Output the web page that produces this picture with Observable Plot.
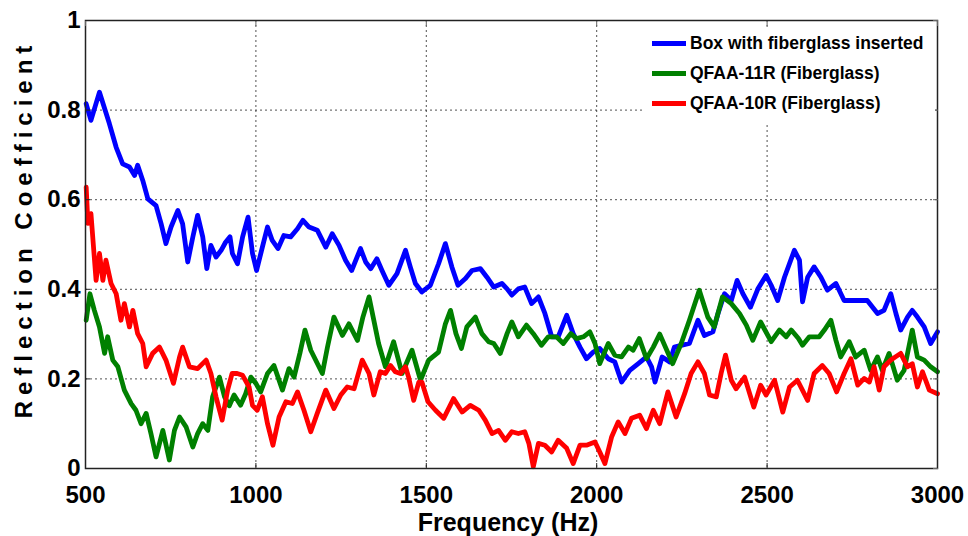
<!DOCTYPE html>
<html><head><meta charset="utf-8">
<script src="https://cdn.jsdelivr.net/npm/d3@7"></script>
<script src="https://cdn.jsdelivr.net/npm/@observablehq/plot@0.6"></script>
<style>
body{margin:0;background:#fff;}
#wrap{position:relative;width:968px;height:536px;font-family:"Liberation Sans",Arial,sans-serif;}
#legend{position:absolute;left:645px;top:27px;width:290px;height:97px;background:#fff;}
.row{position:absolute;left:7px;height:20px;display:flex;align-items:center;white-space:nowrap;}
.sw{width:34px;height:5px;margin-right:4px;}
.lab{font-weight:bold;font-size:17.5px;color:#000;}
</style></head><body><div id="wrap"></div>
<script>
const seriesNames = ["Box with fiberglass inserted", "QFAA-11R (Fiberglass)", "QFAA-10R (Fiberglass)"];
const seriesColors = ["#0000ff", "#008000", "#ff0000"];
const xTicks = [500, 1000, 1500, 2000, 2500, 3000];
const yTicks = [0, 0.2, 0.4, 0.6, 0.8, 1];
const xTitle = "Frequency (Hz)";
const yTitle = "Reflection Coefficient";

const boxData = [
[502,.814],[516,.777],[541,.840],[570,.770],[590,.717],[609,.680],[629,.673],[644,.654],[653,.677],[668,.643],
[683,.602],[707,.587],[722,.546],[736,.502],[751,.539],[771,.576],[785,.546],[800,.461],[815,.517],[829,.565],
[844,.517],[856,.446],[868,.498],[883,.472],[898,.487],[911,.505],[924,.517],[931,.480],[946,.457],[961,.517],
[977,.561],[990,.480],[1002,.442],[1019,.494],[1034,.539],[1048,.509],[1065,.491],[1082,.520],[1102,.517],[1122,.535],
[1138,.554],[1156,.539],[1180,.532],[1205,.494],[1224,.524],[1244,.498],[1263,.465],[1281,.442],[1307,.491],[1322,.461],
[1337,.446],[1355,.468],[1370,.442],[1390,.409],[1414,.435],[1439,.487],[1453,.450],[1468,.413],[1487,.394],[1512,.409],
[1536,.457],[1556,.502],[1575,.450],[1593,.409],[1615,.424],[1634,.442],[1659,.446],[1678,.427],[1698,.405],[1722,.413],
[1737,.401],[1751,.387],[1770,.401],[1789,.405],[1809,.368],[1829,.383],[1848,.346],[1868,.294],[1887,.294],[1912,.342],
[1931,.301],[1951,.271],[1970,.245],[1990,.260],[2009,.268],[2034,.245],[2053,.238],[2073,.193],[2097,.219],[2122,.234],
[2146,.249],[2161,.227],[2171,.193],[2192,.249],[2214,.238],[2228,.271],[2248,.275],[2272,.279],[2297,.331],[2316,.297],
[2341,.305],[2356,.346],[2375,.390],[2395,.375],[2412,.420],[2429,.390],[2451,.360],[2473,.401],[2497,.431],[2512,.409],
[2531,.375],[2551,.427],[2580,.487],[2595,.465],[2604,.372],[2619,.427],[2638,.450],[2658,.427],[2677,.398],[2702,.413],
[2726,.375],[2755,.375],[2794,.375],[2824,.346],[2843,.353],[2863,.390],[2878,.346],[2892,.309],[2912,.338],[2926,.353],
[2941,.338],[2961,.316],[2980,.279],[3000,.305]
];

const qfaa11Data = [
[502,.331],[513,.390],[526,.353],[541,.316],[556,.257],[565,.294],[580,.242],[595,.227],[614,.175],[634,.145],
[648,.130],[663,.100],[678,.123],[692,.078],[707,.026],[727,.085],[746,.019],[761,.085],[776,.115],[795,.093],
[815,.048],[829,.078],[844,.100],[859,.085],[873,.160],[893,.204],[908,.160],[922,.140],[936,.164],[955,.141],
[970,.167],[985,.204],[1000,.190],[1014,.171],[1034,.212],[1053,.230],[1078,.175],[1097,.223],[1112,.204],[1129,.257],
[1144,.309],[1161,.264],[1195,.212],[1210,.271],[1229,.338],[1254,.297],[1273,.323],[1298,.286],[1314,.338],[1332,.383],
[1346,.331],[1360,.279],[1380,.227],[1404,.283],[1429,.212],[1458,.264],[1483,.197],[1507,.242],[1536,.260],[1556,.323],
[1571,.353],[1587,.301],[1603,.268],[1619,.316],[1644,.338],[1663,.301],[1683,.283],[1698,.279],[1717,.257],[1737,.301],
[1751,.327],[1770,.294],[1794,.320],[1814,.301],[1838,.275],[1858,.294],[1882,.294],[1902,.279],[1924,.301],[1941,.290],
[1961,.294],[1980,.305],[1995,.279],[2009,.234],[2034,.279],[2053,.253],[2073,.249],[2093,.271],[2107,.264],[2125,.290],
[2146,.245],[2166,.271],[2185,.300],[2223,.234],[2248,.279],[2272,.331],[2301,.398],[2326,.338],[2345,.316],[2369,.383],
[2395,.368],[2419,.346],[2439,.320],[2458,.286],[2481,.327],[2512,.283],[2536,.309],[2556,.294],[2571,.309],[2592,.290],
[2604,.275],[2624,.294],[2653,.294],[2668,.309],[2687,.331],[2702,.286],[2716,.249],[2741,.283],[2760,.249],[2785,.264],
[2804,.219],[2824,.249],[2838,.219],[2858,.257],[2882,.197],[2902,.219],[2926,.309],[2941,.249],[2961,.242],[2980,.227],
[3000,.216]
];

const qfaa10Data = [
[502,.628],[507,.547],[516,.569],[531,.420],[541,.480],[551,.420],[560,.465],[575,.413],[590,.390],[604,.331],
[614,.368],[629,.316],[639,.353],[653,.301],[668,.279],[678,.227],[697,.257],[717,.271],[736,.242],[758,.190],
[776,.249],[785,.271],[805,.227],[829,.223],[854,.242],[868,.212],[883,.160],[901,.108],[917,.175],[930,.212],
[945,.212],[961,.208],[980,.182],[990,.141],[1004,.130],[1019,.160],[1034,.100],[1050,.052],[1068,.115],[1088,.149],
[1107,.145],[1122,.171],[1141,.130],[1161,.082],[1180,.123],[1205,.175],[1229,.134],[1249,.164],[1268,.182],[1288,.178],
[1312,.242],[1332,.212],[1346,.164],[1365,.216],[1380,.212],[1395,.230],[1409,.216],[1424,.212],[1439,.227],[1448,.204],
[1463,.152],[1478,.193],[1487,.193],[1505,.149],[1527,.130],[1551,.112],[1580,.156],[1605,.126],[1629,.141],[1654,.130],
[1673,.108],[1693,.078],[1712,.085],[1732,.063],[1751,.082],[1770,.078],[1789,.082],[1801,.056],[1814,.004],[1829,.056],
[1848,.052],[1868,.037],[1887,.063],[1912,.045],[1931,.011],[1951,.052],[1970,.052],[1995,.059],[2009,.037],[2024,.011],
[2044,.071],[2063,.104],[2083,.078],[2102,.112],[2126,.119],[2146,.089],[2166,.130],[2185,.100],[2209,.171],[2233,.115],
[2258,.167],[2277,.212],[2297,.238],[2316,.212],[2331,.164],[2351,.160],[2365,.212],[2378,.253],[2395,.197],[2409,.178],
[2434,.204],[2461,.137],[2481,.186],[2497,.164],[2522,.197],[2546,.126],[2566,.182],[2589,.197],[2619,.152],[2638,.212],
[2662,.230],[2682,.212],[2704,.171],[2726,.212],[2746,.245],[2766,.186],[2785,.201],[2800,.193],[2814,.227],[2829,.175],
[2843,.227],[2863,.242],[2892,.257],[2912,.227],[2926,.234],[2941,.182],[2956,.216],[2976,.175],[3000,.167]
];

const allSeries = [boxData, qfaa11Data, qfaa10Data];
const font = "Liberation Sans, Arial, sans-serif";
const gridStyle = {stroke: "#333", strokeOpacity: 0.85, strokeDasharray: "2,3", strokeWidth: 1};

const lineMarks = allSeries.map((data, i) =>
  Plot.line(data, {x: d => d[0], y: d => d[1], stroke: seriesColors[i], strokeWidth: 4.8,
    strokeLinejoin: "round", strokeLinecap: "round"}));

const chart = Plot.plot({
  width: 968, height: 536,
  marginLeft: 85, marginRight: 31, marginTop: 20, marginBottom: 68,
  style: {fontFamily: font, background: "white", overflow: "visible"},
  x: {domain: [500, 3000]},
  y: {domain: [0, 1]},
  marks: [
    Plot.gridX(xTicks.slice(1, -1), gridStyle),
    Plot.gridY(yTicks.slice(1, -1), gridStyle),
    ...lineMarks,
    Plot.frame({stroke: "#222", strokeWidth: 1.5}),
    Plot.axisX(xTicks, {anchor: "bottom", tickSize: 0, tickPadding: 17.6, fontSize: 24, fontWeight: "bold",
      fill: "#000", label: null, tickFormat: d => String(d)}),
    Plot.axisY(yTicks, {anchor: "left", tickSize: 0, tickPadding: 5, fontSize: 24, fontWeight: "bold",
      fill: "#000", label: null, tickFormat: d => String(d)}),
    Plot.axisX(xTicks, {anchor: "bottom", tickSize: -5, fill: "none", label: null, stroke: "#222"}),
    Plot.axisX(xTicks, {anchor: "top", tickSize: -5, fill: "none", label: null, stroke: "#666"}),
    Plot.axisY(yTicks, {anchor: "left", tickSize: -5, fill: "none", label: null, stroke: "#222"}),
    Plot.axisY(yTicks, {anchor: "right", tickSize: -5, fill: "none", label: null, stroke: "#666"})
  ]
});

const svg = d3.select(chart);
svg.append("text")
  .attr("transform", "translate(32,229) rotate(-90)")
  .attr("text-anchor", "middle")
  .style("font-family", font).style("font-size", "24px").style("font-weight", "bold")
  .style("letter-spacing", "6px").attr("fill", "#000")
  .text(yTitle);
svg.append("text")
  .attr("x", 508).attr("y", 530.5)
  .attr("text-anchor", "middle")
  .style("font-family", font).style("font-size", "25px").style("font-weight", "bold")
  .attr("fill", "#000")
  .text(xTitle);

const wrap = document.getElementById("wrap");
wrap.appendChild(chart);

const legend = document.createElement("div");
legend.id = "legend";
seriesNames.forEach((name, i) => {
  const row = document.createElement("div");
  row.className = "row";
  row.style.top = (6 + i * 30) + "px";
  const sw = document.createElement("div");
  sw.className = "sw";
  sw.style.background = seriesColors[i];
  const lab = document.createElement("span");
  lab.className = "lab";
  lab.textContent = name;
  row.appendChild(sw);
  row.appendChild(lab);
  legend.appendChild(row);
});
wrap.appendChild(legend);
</script>
</body></html>
